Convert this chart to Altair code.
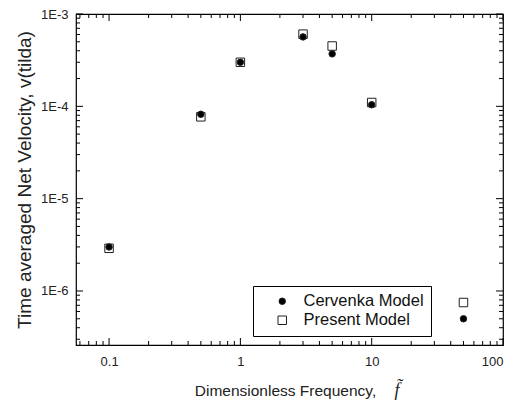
import altair as alt
import pandas as pd

# ---- data ----
freq = [0.1, 0.5, 1, 3, 5, 10, 50]
cervenka = [3.0e-6, 8.2e-5, 3.0e-4, 5.65e-4, 3.7e-4, 1.04e-4, 5.0e-7]
present = [2.9e-6, 7.7e-5, 3.0e-4, 6.05e-4, 4.5e-4, 1.1e-4, 7.5e-7]
models = ["Cervenka Model", "Present Model"]

x_major = [0.1, 1, 10, 100]
x_minor = [0.06, 0.07, 0.08, 0.09] + [k / 10 for k in range(2, 10)] + list(range(2, 10)) + [k * 10 for k in range(2, 10)]
y_major = [1e-6, 1e-5, 1e-4, 1e-3]
y_minor = [k * 1e-7 for k in range(3, 10)] + [k * 1e-6 for k in range(2, 10)] + [k * 1e-5 for k in range(2, 10)] + [k * 1e-4 for k in range(2, 10)]

W, H = 427, 331
TOP = 6
XDOM = [0.056, 100]
YDOM = [2.6e-7, 1e-3]

rows = []
for f, p in zip(freq, present):
    rows.append({"f": f, "v": p, "model": models[1], "z": 0})
for f, c in zip(freq, cervenka):
    rows.append({"f": f, "v": c, "model": models[0], "z": 1})
df = pd.DataFrame(rows)

xs = alt.Scale(type="log", domain=XDOM, nice=False)
ys = alt.Scale(type="log", domain=YDOM, nice=False)

x_axis = alt.Axis(values=x_major, labelExpr="format(datum.value, '~g')",
                  title="Dimensionless Frequency,", titleX=209,
                  domain=False, ticks=False, grid=False,
                  labelPadding=10, titlePadding=15)
y_axis = alt.Axis(values=y_major, labelExpr="'1E' + round(log(datum.value)/LN10)",
                  title="Time averaged Net Velocity, v(tilda)",
                  domain=False, ticks=False, grid=False,
                  labelPadding=8, titlePadding=6)

points = alt.Chart(df).mark_point(opacity=1, strokeWidth=1).encode(
    x=alt.X("f:Q", scale=xs, axis=x_axis),
    y=alt.Y("v:Q", scale=ys, axis=y_axis),
    shape=alt.Shape("model:N", scale=alt.Scale(domain=models, range=["circle", "square"]),
                    legend=alt.Legend(title=None, orient="none", legendX=177, legendY=286 - 8 - TOP,
                                      strokeColor="black", fillColor="white", padding=7,
                                      symbolOffset=14, labelOffset=13, rowPadding=2,
                                      labelFontSize=16.5, labelFont="Liberation Sans",
                                      labelColor="#111", symbolStrokeWidth=1)),
    fill=alt.Fill("model:N", scale=alt.Scale(domain=models, range=["black", "white"]), legend=alt.Legend(title=None)),
    size=alt.Size("model:N", scale=alt.Scale(domain=models, range=[42, 72]), legend=alt.Legend(title=None)),
    stroke=alt.value("#222"),
    order=alt.Order("z:Q"),
)


def xticks(vals, length):
    d = pd.DataFrame({"t": vals})
    b = alt.Chart(d).mark_rule(color="black", strokeWidth=1).encode(
        x=alt.X("t:Q", scale=xs, axis=x_axis), y=alt.value(H), y2=alt.value(H - length))
    t = alt.Chart(d).mark_rule(color="black", strokeWidth=1).encode(
        x=alt.X("t:Q", scale=xs, axis=x_axis), y=alt.value(0), y2=alt.value(length))
    return [b, t]


def yticks(vals, length):
    d = pd.DataFrame({"t": vals})
    l = alt.Chart(d).mark_rule(color="black", strokeWidth=1).encode(
        y=alt.Y("t:Q", scale=ys, axis=y_axis), x=alt.value(0), x2=alt.value(length))
    r = alt.Chart(d).mark_rule(color="black", strokeWidth=1).encode(
        y=alt.Y("t:Q", scale=ys, axis=y_axis), x=alt.value(W), x2=alt.value(W - length))
    return [l, r]


tick_layers = xticks(x_major, 7) + xticks(x_minor, 4) + yticks(y_major, 7) + yticks(y_minor, 4)

ftilde = alt.Chart(pd.DataFrame({"s": ["f\u0303"]})).mark_text(
    font="Liberation Serif", fontStyle="italic", fontSize=18, color="#222", baseline="middle"
).encode(text="s:N", x=alt.value(321), y=alt.value(391 - 8 - TOP))

chart = alt.layer(points, *tick_layers, ftilde).properties(
    width=W, height=H,
    autosize=alt.AutoSizeParams(type="none"),
    padding={"left": 68, "top": TOP, "right": 20, "bottom": 57},
).configure_view(stroke="black", strokeWidth=1.2).configure_axis(
    labelFont="Liberation Sans", labelFontSize=13, labelColor="#222",
    titleFont="Liberation Sans", titleFontWeight="normal", titleColor="#222",
).configure_axisX(titleFontSize=15.5).configure_axisY(titleFontSize=19)

chart.save("out.html", embed_options={"renderer": "svg", "actions": False})
